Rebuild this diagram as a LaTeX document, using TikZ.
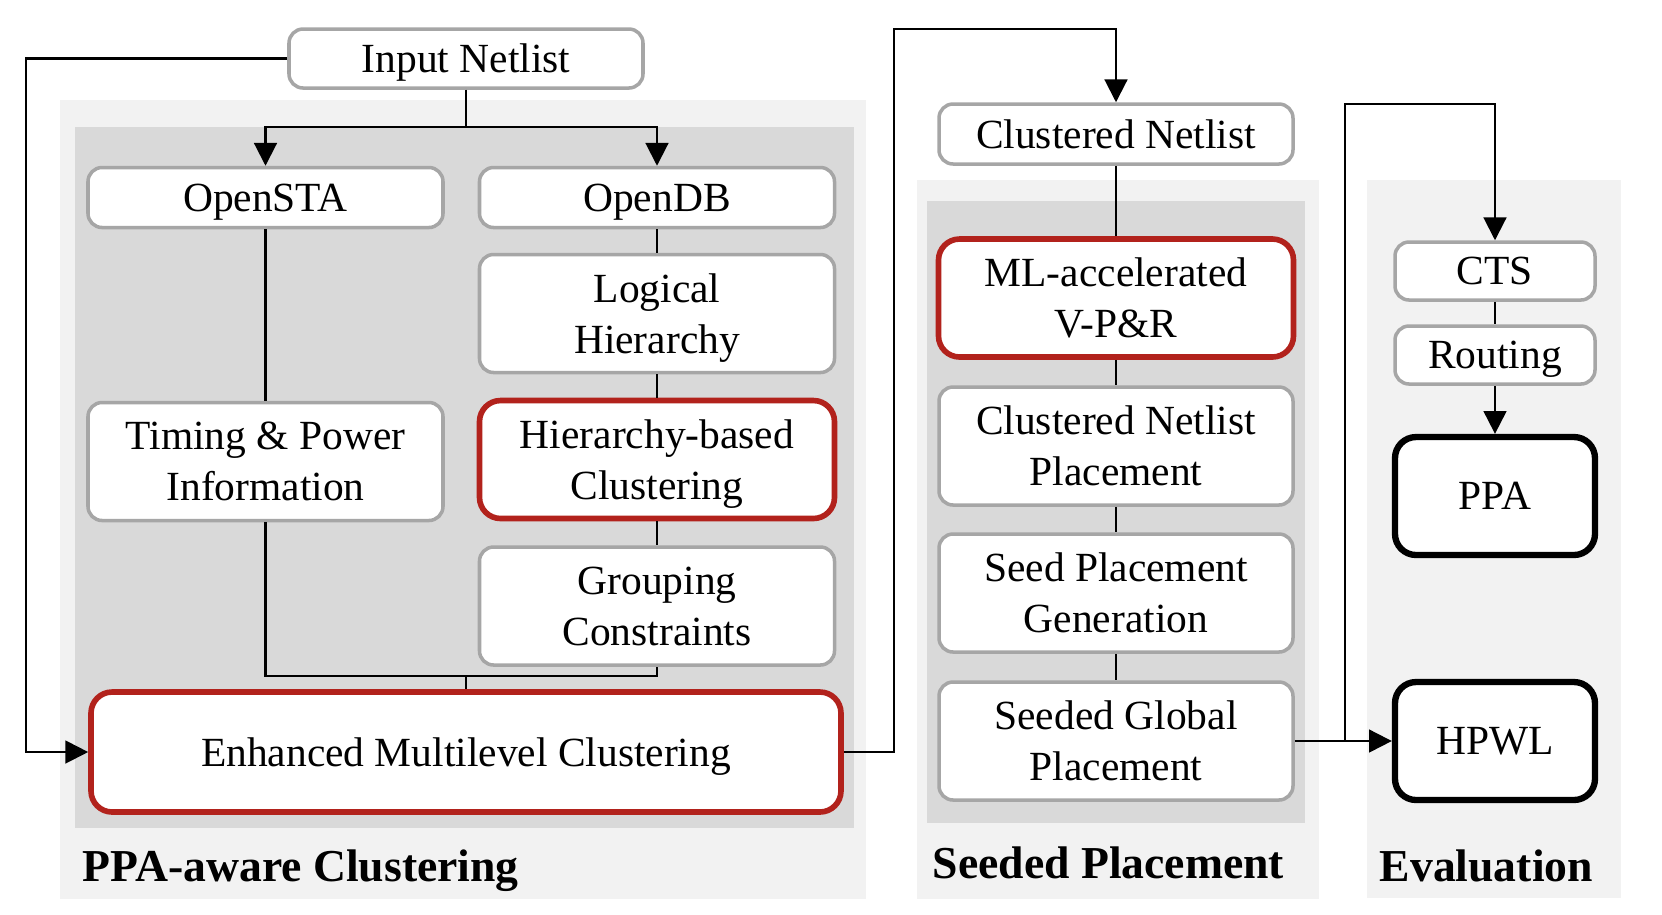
\documentclass[tikz,border=0pt]{standalone}
\usepackage{fontspec}
\setmainfont{Liberation Serif}
\usetikzlibrary{arrows.meta,positioning}
\definecolor{ppred}{HTML}{B2221C}
\definecolor{ppgray}{HTML}{A6A6A6}
\definecolor{pplight}{HTML}{F2F2F2}
\definecolor{ppdark}{HTML}{D9D9D9}

\begin{document}
\begin{tikzpicture}[
    every node/.style={font=\fontsize{11.8}{14.5}\selectfont},
    box/.style={rectangle, rounded corners=4pt, fill=white, draw=ppgray, line width=1pt, align=center, inner sep=0pt, text depth=0pt},
    twoline/.style={minimum height=1.18cm},
    redbox/.style={box, draw=ppred, line width=1.6pt, rounded corners=6pt},
    blackbox/.style={box, draw=black, line width=1.8pt, rounded corners=6pt},
    conn/.style={line width=0.6pt},
    arr/.style={conn, -{Triangle[length=6.5pt,width=6.5pt]}},
    stage/.style={font=\fontsize{13}{15}\selectfont\bfseries, anchor=base west, inner sep=0pt}
  ]
    \useasboundingbox (0,0) rectangle (16.62,-9.14);

    % panels
    \fill[pplight] (0.60,-1.00) rectangle (8.66,-8.99);
    \fill[ppdark] (0.75,-1.27) rectangle (8.54,-8.28);
    \fill[pplight] (9.17,-1.80) rectangle (13.19,-8.99);
    \fill[ppdark] (9.27,-2.01) rectangle (13.05,-8.23);
    \fill[pplight] (13.67,-1.80) rectangle (16.21,-8.98);

    \node[stage] (ppalabel) at (0.82,-8.81) {PPA-aware Clustering};
    \node[stage] (splabel) at (9.32,-8.78) {Seeded Placement};
    \node[stage] (evallabel) at (13.79,-8.81) {Evaluation};

    % PPA-aware clustering
    \node[box, minimum width=3.54cm, minimum height=0.59cm] (innet) at (4.66,-0.585) {Input Netlist};
    \node[box, minimum width=3.55cm, minimum height=0.60cm] (opensta) at (2.655,-1.975) {OpenSTA};
    \node[box, minimum width=3.55cm, minimum height=0.60cm] (opendb) at (6.57,-1.975) {OpenDB};
    \node[box, twoline, minimum width=3.55cm] (loghier) at (6.57,-3.135) {Logical\\Hierarchy};
    \node[box, twoline, minimum width=3.55cm] (timing) at (2.655,-4.615) {Timing \& Power\\Information};
    \node[redbox, twoline, minimum width=3.55cm] (hierclu) at (6.57,-4.595) {Hierarchy-based\\Clustering};
    \node[box, twoline, minimum width=3.55cm] (grouping) at (6.57,-6.06) {Grouping\\Constraints};
    \node[redbox, minimum width=7.50cm, minimum height=1.20cm] (emc) at (4.66,-7.52) {Enhanced Multilevel Clustering};
    \coordinate (join) at (4.66,-6.76);

    % seeded placement
    \node[box, minimum width=3.54cm, minimum height=0.60cm] (clunet) at (11.16,-1.34) {Clustered Netlist};
    \node[redbox, twoline, minimum width=3.55cm] (mlvpr) at (11.16,-2.98) {ML-accelerated\\V-P\&R};
    \node[box, twoline, minimum width=3.54cm] (cnp) at (11.16,-4.46) {Clustered Netlist\\Placement};
    \node[box, twoline, minimum width=3.54cm] (spg) at (11.16,-5.93) {Seed Placement\\Generation};
    \node[box, twoline, minimum width=3.54cm] (sgp) at (11.16,-7.41) {Seeded Global\\Placement};

    % evaluation
    \node[box, minimum width=2.00cm, minimum height=0.58cm] (cts) at (14.95,-2.71) {CTS};
    \node[box, minimum width=2.00cm, minimum height=0.58cm] (routing) at (14.95,-3.55) {Routing};
    \node[blackbox, minimum width=2.00cm, minimum height=1.18cm] (ppa) at (14.95,-4.96) {PPA};
    \node[blackbox, minimum width=2.00cm, minimum height=1.18cm] (hpwl) at (14.95,-7.41) {HPWL};
    \coordinate (tap) at (13.45,-7.41);

    \draw[arr] (innet.west) -| (0.26,-7.52) -- (emc.west);
    \draw[arr] (innet.south) |- (4.0,-1.27) -| (opensta.north);
    \draw[arr] (innet.south) |- (6.0,-1.27) -| (opendb.north);
    \draw[conn] (opensta) -- (timing);
    \draw[conn] (opendb) -- (loghier);
    \draw[conn] (loghier) -- (hierclu);
    \draw[conn] (hierclu) -- (grouping);
    \draw[conn] (timing.south) |- (join) -| (grouping.south);
    \draw[conn] (join) -- (emc.north);
    \draw[arr] (emc.east) -| (8.94,-0.29) -| (clunet.north);
    \draw[conn] (clunet) -- (mlvpr);
    \draw[conn] (mlvpr) -- (cnp);
    \draw[conn] (cnp) -- (spg);
    \draw[conn] (spg) -- (sgp);
    \draw[arr] (sgp.east) -- (hpwl.west);
    \draw[arr] (tap) -- (13.45,-1.04) -| (cts.north);
    \draw[conn] (cts) -- (routing);
    \draw[arr] (routing) -- (ppa);
  \end{tikzpicture}
\end{document}
